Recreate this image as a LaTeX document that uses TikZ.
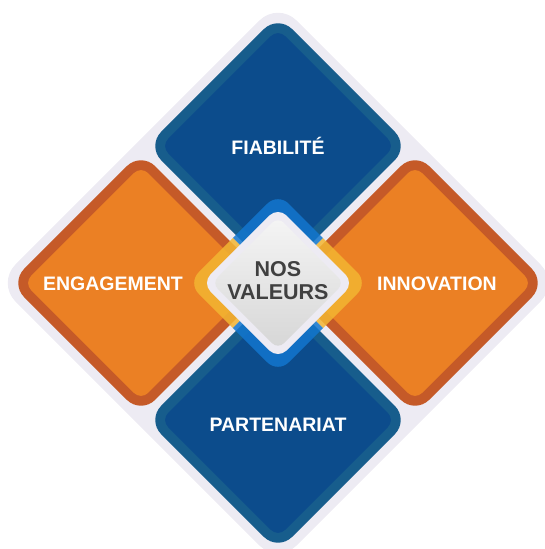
\documentclass[tikz,border=0pt]{standalone}
\usepackage{fontspec}
\setmainfont{Liberation Sans}
\definecolor{lavender}{HTML}{EDEBF3}
\definecolor{navy}{HTML}{0C4C8C}
\definecolor{navyrim}{HTML}{175D8C}
\definecolor{amber}{HTML}{EB8024}
\definecolor{amberrim}{HTML}{C55A28}
\definecolor{haloblue}{HTML}{1276CE}
\definecolor{haloyellow}{HTML}{F3B632}
\definecolor{coregray}{HTML}{404040}
\tikzset{
  rhomb/.style n args={3}{insert path={(#1,#2+#3) -- (#1+#3,#2) -- (#1,#2-#3) -- (#1-#3,#2) -- cycle}},
  tag/.style={text=white, text height=14pt, text depth=0pt,
    font=\bfseries\fontsize{19.5}{23}\selectfont},
}
\begin{document}
\begin{tikzpicture}[x=1pt,y=1pt]
\useasboundingbox (-278,-266) rectangle (266,283);
\fill[lavender, rounded corners=26pt, rhomb={0}{0}{281}];
\foreach \x/\y/\rim/\body in {0/137/navyrim/navy, -137/0/amberrim/amber,
    137/0/amberrim/amber, 0/-137/navyrim/navy} {
  \fill[\rim, rounded corners=20pt, rhomb={\x}{\y}{131}];
  \fill[\body, rounded corners=10pt, rhomb={\x}{\y}{117}];
}
\foreach \a/\c in {0/haloyellow, 90/haloblue, 180/haloyellow, 270/haloblue} {
  \begin{scope}
    \clip (0,0) -- (\a-45:300) -- (\a+45:300) -- cycle;
    \fill[\c, opacity=.85, rounded corners=15pt, rhomb={0}{0}{90}];
  \end{scope}
}
\fill[lavender, rounded corners=12pt, rhomb={0}{0}{76}];
\shade[top color=gray!8, bottom color=gray!32, rounded corners=8pt, rhomb={0}{0}{66}];
\node[text=coregray, align=center, font=\bfseries\fontsize{21.5}{23}\selectfont]
  (core) at (0,2) {NOS\\VALEURS};
\node[tag] (fiab) at (0,135) {FIABILITÉ};
\node[tag] (engag) at (-165,0) {ENGAGEMENT};
\node[tag] (innov) at (159,0) {INNOVATION};
\node[tag] (parten) at (0,-141) {PARTENARIAT};
\end{tikzpicture}
\end{document}
